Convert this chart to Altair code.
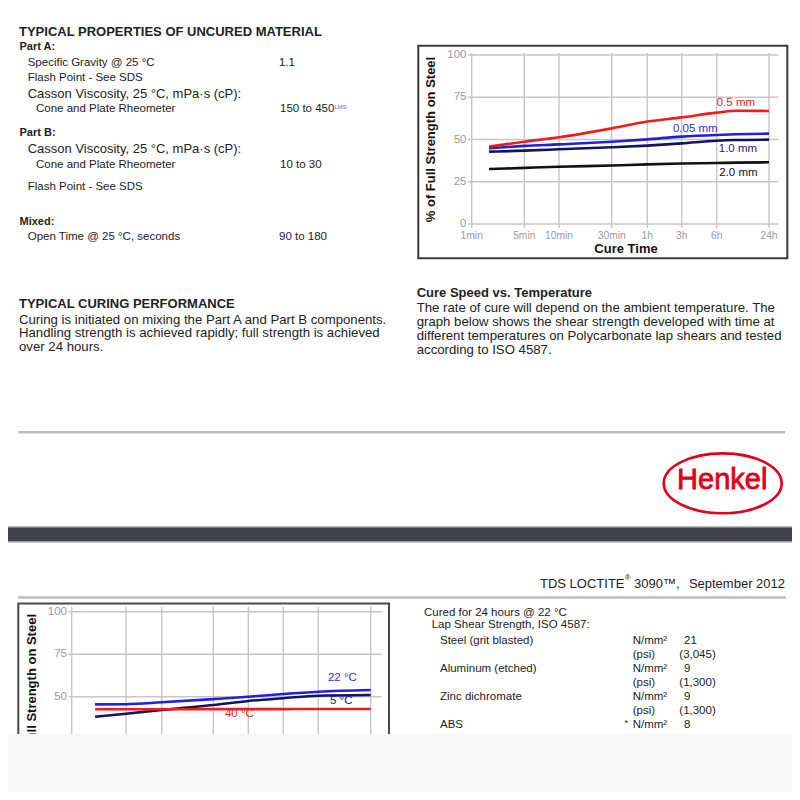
import altair as alt
import pandas as pd

FONT = "Liberation Sans"

# ---------------- data ----------------
time_ticks = [1, 5, 10, 30, 60, 180, 360, 1440]          # minutes
time_tick_labels = ["1min", "5min", "10min", "30min", "1h", "3h", "6h", "24h"]
pct_ticks = [0, 25, 50, 75, 100]
pct_tick_labels = ["0", "25", "50", "75", "100"]

# cure speed vs. bond gap (top chart)
gap_times = [1.7, 5, 10, 30, 60, 180, 360, 600, 1440]
gap_05 = [45.8, 48.7, 51.3, 56.6, 60.6, 63.1, 65.9, 67.0, 66.9]
gap_005 = [44.8, 46.2, 47.1, 48.7, 50.1, 51.7, 52.7, 53.1, 53.5]
gap_10 = [42.8, 43.4, 44.2, 45.4, 46.4, 47.7, 49.3, 49.7, 49.9]
gap_20 = [32.5, 33.2, 33.9, 34.6, 35.3, 35.8, 36.1, 36.3, 36.5]
gap_names = ["0.5 mm", "0.05 mm", "1.0 mm", "2.0 mm"]
gap_label_time = [360, 136, 380, 385]
gap_label_pct = [71.8, 56.2, 44.4, 30.4]

# cure speed vs. temperature (bottom chart)
temp_times = [2, 5, 10, 30, 60, 180, 360, 1440]
temp_22 = [45.5, 45.6, 46.7, 48.6, 50.0, 51.6, 52.9, 53.9]
temp_5 = [38.2, 40.0, 42.2, 45.1, 47.5, 49.1, 50.6, 51.0]
temp_40 = [42.6, 42.6, 42.6, 42.7, 42.7, 42.7, 42.8, 42.8]
temp_names = ["22 °C", "5 °C", "40 °C"]
temp_label_time = [464, 491, 37.8]
temp_label_pct = [61.2, 47.5, 39.6]

axis_title_y = "% of Full Strength on Steel"
axis_title_x = "Cure Time"

uncured_title = "TYPICAL PROPERTIES OF UNCURED MATERIAL"
uncured_groups = ["Part A:", "Part B:", "Mixed:"]
uncured_items = ["Specific Gravity @ 25 °C", "Flash Point - See SDS",
                 "Casson Viscosity, 25 °C, mPa·s (cP):", "Cone and Plate Rheometer",
                 "Casson Viscosity, 25 °C, mPa·s (cP):", "Cone and Plate Rheometer",
                 "Flash Point - See SDS", "Open Time @ 25 °C,  seconds"]
uncured_values = ["1.1", "150 to 450", "10 to 30", "90 to 180"]
lms_mark = "LMS"

curing_title = "TYPICAL CURING PERFORMANCE"
curing_text = ["Curing is initiated on mixing the Part A and Part B components.",
               "Handling strength is achieved rapidly; full strength is achieved",
               "over 24 hours."]
speed_title = "Cure Speed vs. Temperature"
speed_text = ["The rate of cure will depend on the ambient temperature. The",
              "graph below shows the shear strength developed with time at",
              "different temperatures on Polycarbonate lap shears and tested",
              "according to ISO 4587."]
logo_text = "Henkel"
header_parts = ["TDS LOCTITE", "®", "3090™,", "September 2012"]
cured_title = ["Cured for 24 hours @ 22 °C", "Lap Shear Strength, ISO 4587:"]
substrates = ["Steel (grit blasted)", "Aluminum  (etched)", "Zinc dichromate", "ABS"]
unit_si = "N/mm²"
unit_psi = "(psi)"
strength_si = ["21", "9", "9", "8"]
strength_psi = ["(3,045)", "(1,300)", "(1,300)"]

# ---------------- styles ----------------
RED = "#f01c1c"
BLUE = "#2020e0"
NAVY = "#14145e"
BLACK = "#111111"
GRID = "#c6c6c6"
TICKGRAY = "#9a9a9a"
TXT = "#222222"
LOGO_RED = "#e2001a"

one = pd.DataFrame({"k": [0]})
O = 8  # page margin


def T(s, x, y, size=11.5, weight="normal", color=TXT, align="left", angle=0, **kw):
    return alt.Chart(one).mark_text(
        text=s, font=FONT, fontSize=size, fontWeight=weight, color=color,
        align=align, baseline="middle", angle=angle, **kw
    ).encode(x=alt.value(x - O), y=alt.value(y - O))


def R(x1, y1, x2, y2, fill=None, stroke=None, sw=1):
    kw = {}
    if fill is not None:
        kw["fill"] = fill
    else:
        kw["fillOpacity"] = 0
    if stroke is not None:
        kw["stroke"] = stroke
        kw["strokeWidth"] = sw
    return alt.Chart(one).mark_rect(**kw).encode(
        x=alt.value(x1 - O), x2=alt.value(x2 - O), y=alt.value(y1 - O), y2=alt.value(y2 - O))


def HL(x1, x2, y, color, sw):
    return alt.Chart(one).mark_rule(color=color, strokeWidth=sw).encode(
        x=alt.value(x1 - O), x2=alt.value(x2 - O), y=alt.value(y - O))


def tscale(px):
    return alt.Scale(type="log", domain=time_ticks, range=[p - O for p in px], nice=False)


def pscale(y0, y100):
    return alt.Scale(domain=[0, 100], range=[y0 - O, y100 - O], nice=False, zero=False)


def chart_block(xs, ys, top, bottom, left, right, label_right, xlabel_y, series, labels,
                title_x, title_mid, show_x):
    L = []
    tick_df = pd.DataFrame({"t": time_ticks, "lab": time_tick_labels})
    pct_df = pd.DataFrame({"p": pct_ticks, "lab": pct_tick_labels})
    L.append(alt.Chart(tick_df).mark_rule(color=GRID, strokeWidth=1.4).encode(
        x=alt.X("t:Q", scale=xs, axis=None), y=alt.value(top - O), y2=alt.value(bottom - O)))
    L.append(alt.Chart(pct_df).mark_rule(color=GRID, strokeWidth=1.4).encode(
        y=alt.Y("p:Q", scale=ys, axis=None), x=alt.value(left - O), x2=alt.value(right - O)))
    L.append(alt.Chart(pct_df).mark_text(font=FONT, fontSize=11.5, color=TICKGRAY, align="right",
                                         baseline="middle").encode(
        y=alt.Y("p:Q", scale=ys, axis=None), x=alt.value(label_right - O), text="lab:N"))
    if show_x:
        L.append(alt.Chart(tick_df).mark_text(font=FONT, fontSize=10.3, color=TICKGRAY, align="center",
                                              baseline="middle").encode(
            x=alt.X("t:Q", scale=xs, axis=None), y=alt.value(xlabel_y - O), text="lab:N"))
    for times, vals, color in series:
        df = pd.DataFrame({"t": times, "v": vals})
        L.append(alt.Chart(df).mark_line(color=color, strokeWidth=2.6, interpolate="monotone").encode(
            x=alt.X("t:Q", scale=xs, axis=None), y=alt.Y("v:Q", scale=ys, axis=None)))
    for name, t, p, color in labels:
        df = pd.DataFrame({"t": [t], "v": [p], "s": [name]})
        L.append(alt.Chart(df).mark_text(font=FONT, fontSize=11.5, color=color, align="left",
                                         baseline="middle").encode(
            x=alt.X("t:Q", scale=xs, axis=None), y=alt.Y("v:Q", scale=ys, axis=None), text="s:N"))
    L.append(T(axis_title_y, title_x, title_mid, size=13, weight="bold", color=BLACK,
               align="center", angle=270))
    return L


layers = []

# ---------- top chart ----------
layers.append(R(418.3, 45.7, 787.3, 258.3, stroke="#3a3a3a", sw=2))
top_xs = tscale([471.7, 524.3, 559.0, 611.7, 647.3, 681.7, 716.7, 769.0])
top_ys = pscale(224, 55)
layers += chart_block(
    top_xs, top_ys, 53, 228, 468, 778.3, 466.5, 236.0,
    [(gap_times, gap_20, BLACK), (gap_times, gap_10, NAVY), (gap_times, gap_005, BLUE),
     (gap_times, gap_05, RED)],
    [(gap_names[0], gap_label_time[0], gap_label_pct[0], RED),
     (gap_names[1], gap_label_time[1], gap_label_pct[1], "#3030c8"),
     (gap_names[2], gap_label_time[2], gap_label_pct[2], "#22227a"),
     (gap_names[3], gap_label_time[3], gap_label_pct[3], BLACK)],
    431, 139.5, True)
layers.append(T(axis_title_x, 626, 249, size=13, weight="bold", color=BLACK, align="center"))

# ---------- bottom chart ----------
layers.append(R(18.3, 603.5, 389, 800, stroke="#4a4a4a", sw=2))
bot_xs = tscale([71.7, 126.0, 161.7, 213.3, 248.3, 283.3, 318.3, 370.7])
bot_ys = pscale(781.7, 611.7)
layers += chart_block(
    bot_xs, bot_ys, 607, 800, 68.5, 381.7, 67, 794,
    [(temp_times, temp_5, NAVY), (temp_times, temp_40, RED), (temp_times, temp_22, BLUE)],
    [(temp_names[0], temp_label_time[0], temp_label_pct[0], "#3030c8"),
     (temp_names[1], temp_label_time[1], temp_label_pct[1], "#22227a"),
     (temp_names[2], temp_label_time[2], temp_label_pct[2], RED)],
    31.7, 696.7, False)

# ---------- uncured properties ----------
layers.append(T(uncured_title, 19, 31.7, size=13, weight="bold"))
layers.append(T(uncured_groups[0], 19.5, 47, size=11, weight="bold"))
layers.append(T(uncured_items[0], 27.7, 62.7))
layers.append(T(uncured_items[1], 27.7, 77.7))
layers.append(T(uncured_items[2], 27.7, 94, size=13))
layers.append(T(uncured_items[3], 36, 109.3))
layers.append(T(uncured_groups[1], 19.5, 133.3, size=11, weight="bold"))
layers.append(T(uncured_items[4], 27.7, 149.3, size=13))
layers.append(T(uncured_items[5], 36, 165))
layers.append(T(uncured_items[6], 27.7, 187.3))
layers.append(T(uncured_groups[2], 19.5, 221.7, size=11, weight="bold"))
layers.append(T(uncured_items[7], 27.7, 236.7))
layers.append(T(uncured_values[0], 279, 62.7))
layers.append(T(uncured_values[1], 280, 109.3))
layers.append(T(lms_mark, 334.5, 106.5, size=6, color="#7a5cc8"))
layers.append(T(uncured_values[2], 280, 165))
layers.append(T(uncured_values[3], 279, 236.7))

# ---------- curing paragraphs ----------
layers.append(T(curing_title, 19, 303.5, size=13, weight="bold"))
for s, y in zip(curing_text, [319.5, 333.2, 347]):
    layers.append(T(s, 19, y, size=13.2))
layers.append(T(speed_title, 416.7, 293.3, size=13, weight="bold"))
for s, y in zip(speed_text, [308.3, 322.3, 336, 350]):
    layers.append(T(s, 416.7, y, size=13.2))

# ---------- separator, logo, band ----------
layers.append(HL(18.3, 785, 432.3, "#bdbdbd", 2.5))
ELLIPSE = ("M1,0 C1,0.2806 0.5523,0.508 0,0.508 C-0.5523,0.508 -1,0.2806 -1,0 "
           "C-1,-0.2806 -0.5523,-0.508 0,-0.508 C0.5523,-0.508 1,-0.2806 1,0 Z")
layers.append(alt.Chart(one).mark_point(shape=ELLIPSE, size=118 ** 2, filled=False, color=LOGO_RED,
                                        strokeWidth=2.6, opacity=1).encode(
    x=alt.value(722.7 - O), y=alt.value(483.3 - O)))
layers.append(T(logo_text, 722.2, 479.5, size=29, color=LOGO_RED, align="center",
                stroke=LOGO_RED, strokeWidth=0.8))
layers.append(R(0, 526, 800, 542.7, fill="#b9b9b9"))
layers.append(R(0, 527.5, 800, 541.3, fill="#404347"))

# ---------- page 2 header ----------
layers.append(T(header_parts[0], 624.5, 584, size=13, align="right"))
layers.append(T(header_parts[1], 624.8, 578.3, size=8))
layers.append(T(header_parts[2], 634, 584, size=13))
layers.append(T(header_parts[3], 785, 584, size=13, align="right"))
layers.append(HL(18, 786, 597.5, "#bdbdbd", 2.5))

# ---------- lap shear table ----------
layers.append(T(cured_title[0], 424, 612.7))
layers.append(T(cured_title[1], 431.7, 625))
row_y = [640.7, 669, 696.7, 725]
for i, y in enumerate(row_y):
    layers.append(T(substrates[i], 440, y))
    layers.append(T(unit_si, 632.7, y))
    layers.append(T(strength_si[i], 684, y))
    if i < 3:
        layers.append(T(unit_psi, 632.7, y + 14))
        layers.append(T(strength_psi[i], 679.3, y + 14))
layers.append(T("*", 624.5, 723, size=9))

# ---------- bottom grey area ----------
layers.append(R(0, 734, 800, 800, fill="#f8f8f8"))

chart = alt.layer(*layers).resolve_scale(x="independent", y="independent").properties(
    width=784, height=784, padding=0, autosize=alt.AutoSizeParams(type="none")
).configure(background="white").configure_view(stroke=None)

chart.save("out.html", embed_options={"renderer": "svg", "actions": False})
